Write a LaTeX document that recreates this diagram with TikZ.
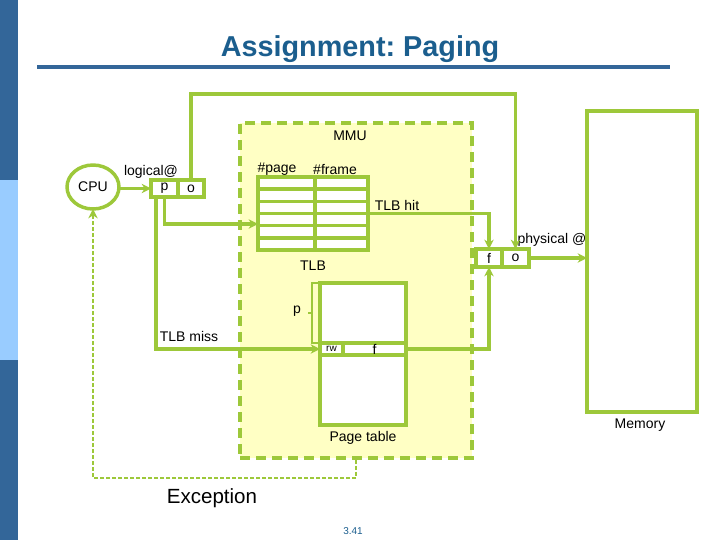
\documentclass[tikz,border=0pt]{standalone}
\usepackage{fontspec}
\setmainfont{Liberation Sans}
\usetikzlibrary{arrows.meta,positioning,calc,shapes.geometric,backgrounds}
\definecolor{leaf}{HTML}{9DC83A}
\definecolor{pale}{HTML}{FFFFC4}
\definecolor{slate}{HTML}{336699}
\definecolor{sky}{HTML}{99CCFF}
\definecolor{ink}{HTML}{1B5E8E}
\newlength{\pu}\setlength{\pu}{0.75pt}
\tikzset{
  >={Stealth[length=7pt,width=7pt]},
  gline/.style={draw=leaf,line width=2.6pt},
  cell/.style={gline,fill=white,rectangle,inner sep=0pt,outer sep=0pt,font=\fontsize{10.5}{12}\selectfont},
  lab/.style={font=\fontsize{10.5}{12}\selectfont,inner sep=0pt},
  arr/.style={->,draw=leaf,line width=2.6pt},
  xarr/.style={->,draw=leaf,line width=1.8pt,dash pattern=on 3pt off 1.5pt},
}
\begin{document}
\begin{tikzpicture}[x=0.75pt,y=-0.75pt]
\useasboundingbox (0,0) rectangle (720,540);
% side bar and title
\fill[slate] (0,0) rectangle (18,180);
\fill[sky] (0,180) rectangle (18,360);
\fill[slate] (0,360) rectangle (18,540);
\node[anchor=base,inner sep=0pt,font=\fontsize{21.6}{24}\selectfont\bfseries,text=ink] (ttl) at (360,56) {Assignment:\kern-2pt{} Paging};
\draw[slate,line width=2.4pt] (37,67) -- (670,67);
% MMU
\node[draw=leaf,fill=pale,line width=2.8pt,dash pattern=on 7.5pt off 4.5pt,minimum width=232\pu,minimum height=335\pu,inner sep=0pt] (mmu) at (356,290.5) {};
\node[lab] (mmulab) at (350,136) {MMU};
% CPU and logical address
\node[cell,ellipse,minimum width=52\pu,minimum height=44\pu] (cpu) at (93,187) {CPU};
\node[cell,minimum width=27\pu,minimum height=17\pu] (lp) at (164.5,188.5) {p};
\node[cell,minimum width=26\pu,minimum height=17\pu] (lo) at (191,188.5) {o};
\node[lab] (loglab) at (151,172) {logical@};
% TLB
\node[cell,minimum width=110\pu,minimum height=73\pu] (tlb) at (313,213.5) {};
\foreach \k in {1,...,5}
  \draw[gline] ($(tlb.north west)!\k/6!(tlb.south west)$) -- ($(tlb.north east)!\k/6!(tlb.south east)$);
\draw[gline] ($(tlb.north)+(2,0)$) -- ($(tlb.south)+(2,0)$);
\node[lab] (pglab) at (277,169) {\#page};
\node[lab] (frlab) at (335,169) {\#frame};
\node[lab] (tlblab) at (313,266) {TLB};
\node[lab] (hitlab) at (397,205) {TLB hit};
% physical address and memory
\node[cell,minimum width=26\pu,minimum height=18\pu] (pf) at (489,258) {f};
\node[cell,minimum width=27\pu,minimum height=18\pu] (po) at (515.5,258) {o};
\node[lab] (physlab) at (552,240) {physical @};
\node[cell,minimum width=110\pu,minimum height=301\pu] (mem) at (642,261.5) {};
\node[lab] (memlab) at (640,425) {Memory};
% page table
\node[cell,minimum width=86\pu,minimum height=142\pu] (pt) at (363,354) {};
\node[cell,minimum width=23\pu,minimum height=12\pu,font=\fontsize{7.5}{8}\selectfont] (prw) at (331.5,349) {rw};
\node[cell,minimum width=63\pu,minimum height=12\pu] (pfr) at (374.5,349) {f};
\node[lab] (ptlab) at (363,438) {Page table};
\draw[draw=leaf,line width=1.8pt] ($(pt.north west)+(-2,0)$) -- ++(-6,0) -- ($(prw.north west)+(-8,0)$) -- ++(6,0);
\draw[draw=leaf,line width=1.8pt] ($(pt.north west)!0.5!(prw.north west)+(-8,0)$) -- ++(-4,0);
\node[lab] (plab) at (297,311) {p};
\node[lab] (misslab) at (189,336) {TLB miss};
% connectors
\coordinate (ovr) at (350,94);
\draw[arr] (cpu.east |- lp.west) -- (lp.west);
\draw[arr] (lo.north) |- (ovr) -| (po.north);
\draw[arr] (lp.south) |- ($(tlb.west)+(0,10.5)$);
\draw[arr] ($(lp.south west)+(5,0)$) |- (prw.west);
\draw[arr] (tlb.east) -| (pf.north);
\draw[arr] (pfr.east) -| (pf.south);
\draw[arr] (po.east) -- (po.east -| mem.west);
\draw[xarr] (mmu.south) -- ++(0,18) -| (cpu.south);
\node[font=\fontsize{15.4}{18}\selectfont,inner sep=0pt] (exclab) at (212,498) {Exception};
\node[font=\fontsize{7.5}{9}\selectfont,text=ink,inner sep=0pt] (pgno) at (353,531) {3.41};
\end{tikzpicture}
\end{document}
